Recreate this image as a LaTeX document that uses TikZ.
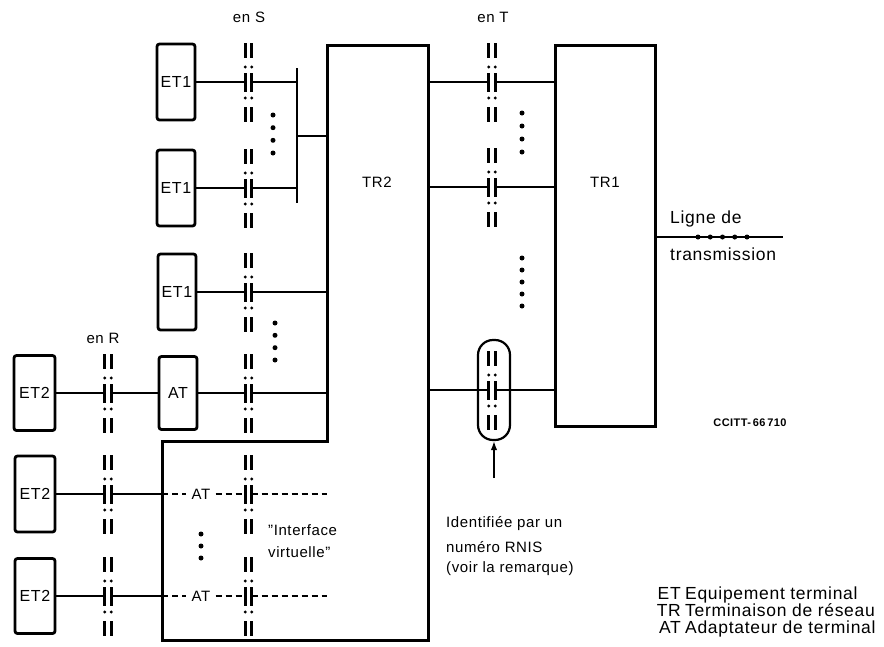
\documentclass[tikz,border=0pt]{standalone}
\usepackage{fontspec}
\setmainfont{Liberation Sans}[LetterSpace=4]
\usetikzlibrary{arrows.meta}
\tikzset{
  iface/.pic={
    \foreach \xx in {-3.2,3.2}{
      \draw[line width=2.7pt] (\xx,-39) -- (\xx,-24);
      \fill (\xx,-15) circle (1.6pt);
      \draw[line width=2.9pt] (\xx,-9) -- (\xx,10);
      \fill (\xx,16) circle (1.6pt);
      \draw[line width=2.7pt] (\xx,25) -- (\xx,40);
    }
    \coordinate (-l) at (-3.2,0);
    \coordinate (-r) at (3.2,0);
  },
  box/.style={draw, line width=2.8pt, rounded corners=2.5pt, minimum width=38pt,
    minimum height=76pt, inner sep=0pt, font=\fontsize{16}{16}\selectfont},
  outline/.style={line width=3pt, line join=miter},
  wire/.style={line width=1.5pt},
  dwire/.style={line width=1.5pt, dash pattern=on 6pt off 4pt},
  txt/.style={font=\fontsize{15}{18}\selectfont, inner sep=0pt},
  bigtxt/.style={font=\fontsize{17.5}{17.5}\selectfont, inner sep=0pt},
  dot/.style={circle, fill, inner sep=0pt, minimum size=5pt},
}
\begin{document}
\begin{tikzpicture}[x=1pt,y=-1pt]
\useasboundingbox (0,0) rectangle (884,646);

% TR2 outline
\coordinate (tr2a) at (327,45);
\coordinate (tr2b) at (428,45);
\coordinate (tr2c) at (428,640);
\coordinate (tr2d) at (162,640);
\coordinate (tr2e) at (162,441);
\coordinate (tr2f) at (327,441);
\draw[outline] (tr2a) -- (tr2b) -- (tr2c) -- (tr2d) -- (tr2e) -- (tr2f) -- cycle;
\node[txt] (tr2lab) at (377,182) {TR2};

% TR1
\node[draw, outline, minimum width=100pt, minimum height=381pt, inner sep=0pt] (tr1) at (605,235.5) {};
\node[txt] (tr1lab) at (605,182) {TR1};

% terminal boxes
\node[box] (et1a) at (176,82) {ET1};
\node[box] (et1b) at (176,188) {ET1};
\node[box] (et1c) at (177,292) {ET1};
\node[box, minimum height=73pt] (at) at (178,393) {AT};
\node[box, minimum width=41pt, minimum height=75pt] (et2a) at (34.5,393) {ET2};
\node[box, minimum width=40pt] (et2b) at (35,494) {ET2};
\node[box, minimum width=40pt, minimum height=75pt] (et2c) at (35,596) {ET2};

% interfaces
\pic (s1) at (248.5,82) {iface};
\pic (s2) at (248.5,188) {iface};
\pic (s3) at (248.5,292) {iface};
\pic (s4) at (248.5,393) {iface};
\pic (s5) at (248.5,494) {iface};
\pic (s6) at (248.5,596) {iface};
\pic (r1) at (108,393) {iface};
\pic (r2) at (108,494) {iface};
\pic (r3) at (108,596) {iface};
\pic (t1) at (492,82) {iface};
\pic (t2) at (492,187) {iface};
\pic (t3) at (492,390) {iface};

% labels
\node[txt] (enS) at (249,17) {en S};
\node[txt] (enT) at (493,17) {en T};
\node[txt] (enR) at (103,338) {en R};

% bus
\coordinate (busT) at (297,68);
\coordinate (busB) at (297,203);
\coordinate (busM) at (297,136);
\draw[wire] (busT) -- (busB);
\draw[wire] (busM) -- (busM -| tr2a);

% wires en S
\draw[wire] (et1a.east) -- (s1-l);
\draw[wire] (s1-r) -- (s1-r -| busT);
\draw[wire] (et1b.east) -- (s2-l);
\draw[wire] (s2-r) -- (s2-r -| busT);
\draw[wire] (et1c.east) -- (s3-l);
\draw[wire] (s3-r) -- (s3-r -| tr2a);
\draw[wire] (at.east) -- (s4-l);
\draw[wire] (s4-r) -- (s4-r -| tr2a);

% wires en R
\draw[wire] (et2a.east) -- (r1-l);
\draw[wire] (r1-r) -- (at.west);
\draw[wire] (et2b.east) -- (r2-l);
\draw[wire] (r2-r) -- (r2-r -| tr2e);
\draw[wire] (et2c.east) -- (r3-l);
\draw[wire] (r3-r) -- (r3-r -| tr2e);

% virtual AT rows
\node[txt, inner xsep=5pt] (vat1) at (201,494) {AT};
\node[txt, inner xsep=5pt] (vat2) at (201,596) {AT};
\draw[dwire] (r2-r -| tr2e) -- (vat1.west);
\draw[dwire] (vat1.east) -- (s5-l);
\draw[dwire] (s5-r) -- (s5-r -| tr2a);
\draw[dwire] (r3-r -| tr2e) -- (vat2.west);
\draw[dwire] (vat2.east) -- (s6-l);
\draw[dwire] (s6-r) -- (s6-r -| tr2a);

% wires en T
\draw[wire] (t1-l -| tr2b) -- (t1-l);
\draw[wire] (t1-r) -- (t1-r -| tr1.west);
\draw[wire] (t2-l -| tr2b) -- (t2-l);
\draw[wire] (t2-r) -- (t2-r -| tr1.west);
\draw[wire] (t3-l -| tr2b) -- (t3-l);
\draw[wire] (t3-r) -- (t3-r -| tr1.west);

% oval and arrow
\node[draw, line width=2.2pt, rounded corners=15pt, minimum width=32pt,
  minimum height=100pt, inner sep=0pt] (oval) at (494,390) {};
\coordinate (arrS) at (494,478);
\draw[wire, -{Latex[length=9pt,width=6.5pt]}] (arrS) -- (oval.south);

% dots
\foreach \yy in {115,127.7,140.3,153} \node[dot] at (273,\yy) {};
\foreach \yy in {323,335.3,347.7,360} \node[dot] at (275,\yy) {};
\foreach \yy in {113,126,139,152} \node[dot] at (522,\yy) {};
\foreach \yy in {258,270,282,294,306} \node[dot] at (522,\yy) {};
\foreach \yy in {534,546,558} \node[dot] at (201,\yy) {};

% transmission line
\coordinate (lineEnd) at (783,237);
\draw[wire] (lineEnd -| tr1.east) -- (lineEnd);
\foreach \xx in {698,710.25,722.5,734.75,747} \node[dot, minimum size=5pt] at (\xx,237) {};
\node[bigtxt, anchor=west] (ligne) at (670,219) {Ligne de};
\node[bigtxt, anchor=west] (transm) at (670,254) {transmission};

\node[font=\bfseries\fontsize{11}{11}\selectfont, inner sep=0pt] (ccitt) at (750,423) {CCITT-\,66\,710};

% texts
\node[txt, anchor=west] (iv1) at (268,530) {''Interface};
\node[txt, anchor=west] (iv2) at (268,552) {virtuelle''};
\node[txt, anchor=west] (id1) at (446,524) {Identifiée par un};
\node[txt, anchor=west] (id2) at (446,547) {numéro RNIS};
\node[txt, anchor=west] (id3) at (446,569) {(voir la remarque)};

% legend
\node[bigtxt, anchor=base east] (lg1a) at (681,599) {ET};
\node[bigtxt, anchor=base west] (lg1b) at (685,599) {Equipement terminal};
\node[bigtxt, anchor=base east] (lg2a) at (681,616) {TR};
\node[bigtxt, anchor=base west] (lg2b) at (685,616) {Terminaison de réseau};
\node[bigtxt, anchor=base east] (lg3a) at (681,633) {AT};
\node[bigtxt, anchor=base west] (lg3b) at (685,633) {Adaptateur de terminal};
\end{tikzpicture}
\end{document}
